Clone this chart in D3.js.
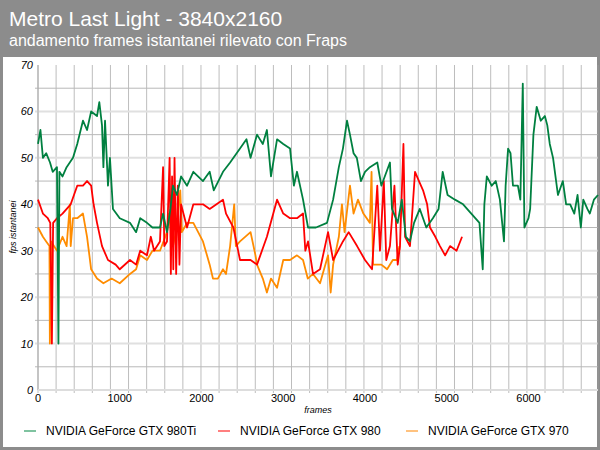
<!DOCTYPE html>
<html><head><meta charset="utf-8">
<script src="https://cdn.jsdelivr.net/npm/d3@7"></script>
<style>body{margin:0}svg{display:block;font-family:"Liberation Sans",Arial,sans-serif}</style>
</head><body><div id="chart"></div>
<script>
const seriesNames = ['NVIDIA GeForce GTX 980Ti', 'NVIDIA GeForce GTX 980', 'NVIDIA GeForce GTX 970']
const seriesColors = ['#008040', '#ff0000', '#ff8c00']
const legendColors = ['#7fc3a0', '#ff7f7f', '#ffc27f']
const xTicks = [0, 1000, 2000, 3000, 4000, 5000, 6000]
const yTicks = [0, 10, 20, 30, 40, 50, 60, 70]

const gtx980ti = [[0,53],[30,56],[60,50],[100,51],[147,49],[180,47],[232,48],[250,10],[262,47],[300,46],[350,48],[428,50],[480,53],[550,58],[600,56],[650,60],[722,59],[750,62],[783,57],[800,48],[820,58],[856,44],[880,50],[917,39],[1000,37],[1125,36],[1200,34],[1250,37],[1333,36],[1400,35],[1492,35],[1530,38],[1578,34],[1620,39],[1651,44],[1700,42],[1750,46],[1823,44],[1900,47],[2018,45],[2100,47],[2150,43],[2263,47],[2350,49],[2471,52],[2550,54],[2600,50],[2679,55],[2750,53],[2800,56],[2850,46],[2924,54],[3000,53],[3083,52],[3130,44],[3168,47],[3242,41],[3303,35],[3400,35],[3535,36],[3610,41],[3680,48],[3730,52],[3780,58],[3816,55],[3860,51],[3900,50],[3950,45],[4000,47],[4060,48],[4150,49],[4200,44],[4305,49],[4330,39],[4400,36],[4450,41],[4500,33],[4550,32],[4600,36],[4670,39],[4750,35],[4830,37],[4900,39],[4950,47],[5010,42],[5100,41],[5200,40],[5300,38],[5400,36],[5440,26],[5460,40],[5490,46],[5550,44],[5600,45],[5650,41],[5700,32],[5720,44],[5750,52],[5780,51],[5810,44],[5870,44],[5900,41],[5930,66],[5950,35],[6000,37],[6020,39],[6060,55],[6100,61],[6150,58],[6200,59],[6230,57],[6260,53],[6300,50],[6360,42],[6420,45],[6460,40],[6510,40],[6560,38],[6600,42],[6640,35],[6670,41],[6720,39],[6750,38],[6800,41],[6850,42]]
const gtx980 = [[0,41],[60,38],[120,37],[150,36],[170,10],[185,36],[232,37],[300,38],[400,40],[480,44],[550,44],[600,45],[650,44],[680,40],[722,36],[783,31],[856,28],[950,27],[1000,26],[1125,28],[1200,27],[1250,30],[1333,29],[1380,33],[1420,30],[1492,32],[1530,48],[1545,31],[1578,32],[1610,50],[1625,25],[1640,46],[1655,26],[1670,50],[1690,25],[1710,44],[1730,27],[1750,40],[1823,35],[1900,40],[2018,40],[2100,39],[2263,41],[2300,38],[2390,35],[2471,28],[2600,28],[2679,27],[2800,33],[2924,41],[3000,38],[3083,37],[3168,37],[3242,38],[3270,30],[3303,32],[3364,25],[3450,26],[3548,34],[3610,28],[3730,32],[3800,34],[3903,31],[4000,28],[4086,26],[4150,44],[4183,30],[4230,45],[4260,28],[4305,31],[4360,44],[4400,27],[4428,31],[4470,53],[4490,33],[4550,31],[4612,47],[4660,45],[4710,43],[4760,40],[4795,35],[4860,33],[4917,31],[4980,29],[5040,31],[5120,30],[5187,33]]
const gtx970 = [[0,35],[60,33],[100,32],[140,31],[145,10],[160,32],[232,30],[300,33],[350,31],[390,40],[400,31],[428,37],[480,37],[550,38],[600,33],[650,26],[722,24],[800,23],[900,24],[1000,23],[1125,25],[1200,26],[1250,29],[1333,28],[1400,30],[1492,30],[1578,34],[1600,38],[1651,31],[1700,35],[1740,43],[1760,34],[1823,36],[1900,36],[2018,32],[2100,27],[2140,24],[2200,24],[2263,26],[2300,25],[2350,31],[2400,40],[2420,31],[2471,32],[2600,34],[2660,29],[2679,27],[2750,24],[2800,21],[2850,24],[2924,22],[3000,28],[3083,28],[3168,29],[3242,28],[3300,24],[3364,25],[3450,23],[3548,29],[3580,21],[3610,27],[3680,33],[3718,40],[3750,34],[3816,44],[3860,38],[3914,41],[3980,38],[4060,36],[4080,47],[4098,27],[4200,27],[4270,26],[4340,28],[4391,28],[4420,31]]
const allSeries = [gtx980ti, gtx980, gtx970]

const W = 600, H = 450
const svg = d3.select('#chart').append('svg').attr('width', W).attr('height', H)

// frame + header
svg.append('rect').attr('width', W).attr('height', H).attr('fill', '#8c8c8c')
svg.append('rect').attr('x', 3).attr('y', 57).attr('width', W - 6).attr('height', H - 60).attr('fill', '#fff')
svg.append('text').attr('x', 9).attr('y', 26).attr('fill', '#fff').attr('font-size', 21).text('Metro Last Light - 3840x2160')
svg.append('text').attr('x', 9).attr('y', 46).attr('fill', '#fff').attr('font-size', 16).text('andamento frames istantanei rilevato con Fraps')

const x = d3.scaleLinear().domain([0, 6850]).range([38, 598])
const y = d3.scaleLinear().domain([0, 70]).range([390, 65])

const grid = svg.append('g')
grid.selectAll('line.v').data(d3.range(0, 6850, 221.5)).join('line')
  .attr('x1', d => x(d)).attr('x2', d => x(d)).attr('y1', 65).attr('y2', 393)
  .attr('stroke', '#bdbdbd').attr('stroke-width', 1)
grid.selectAll('line.h').data(d3.range(5, 70, 5)).join('line')
  .attr('x1', 35).attr('x2', 598).attr('y1', d => y(d)).attr('y2', d => y(d))
  .attr('stroke', d => d % 10 === 0 ? '#e0e0e0' : '#b8b8b8')
  .attr('stroke-width', d => d % 10 === 0 ? 2 : 1)
svg.append('line').attr('x1', 598).attr('x2', 598).attr('y1', 65).attr('y2', 390).attr('stroke', '#999')
svg.append('line').attr('x1', 38).attr('x2', 38).attr('y1', 65).attr('y2', 390).attr('stroke', '#aaa')
svg.append('line').attr('x1', 38).attr('x2', 598).attr('y1', 390).attr('y2', 390).attr('stroke', '#ddd').attr('stroke-width', 2)

const line = d3.line().x(d => x(d[0])).y(d => y(d[1]))
svg.append('g').selectAll('path').data([...allSeries].reverse()).join('path')
  .attr('d', line).attr('fill', 'none')
  .attr('stroke', (d, i) => seriesColors[2 - i]).attr('stroke-width', 1.8)
  .attr('stroke-linejoin', 'round')

svg.append('g').attr('font-size', 11).attr('font-style', 'italic').attr('text-anchor', 'end')
  .selectAll('text').data(yTicks).join('text')
  .attr('x', 33).attr('y', d => y(d) + 4).text(d => d)
svg.append('g').attr('font-size', 11).attr('text-anchor', 'middle')
  .selectAll('text').data(xTicks).join('text')
  .attr('x', d => x(d)).attr('y', 402).text(d => d)
svg.append('text').attr('x', 318).attr('y', 413).attr('font-size', 9).attr('font-style', 'italic').attr('text-anchor', 'middle').text('frames')
svg.append('text').attr('transform', 'translate(16,227) rotate(-90)').attr('font-size', 9).attr('font-style', 'italic').attr('text-anchor', 'middle').text('fps istantanei')

const legendX = [24, 218, 406]
const lg = svg.append('g').selectAll('g').data(seriesNames).join('g')
  .attr('transform', (d, i) => `translate(${legendX[i]},431)`)
lg.append('line').attr('x1', 0).attr('x2', 12).attr('stroke', (d, i) => legendColors[i]).attr('stroke-width', 2)
lg.append('text').attr('x', 22).attr('y', 4).attr('font-size', 12).text(d => d)
</script></body></html>
